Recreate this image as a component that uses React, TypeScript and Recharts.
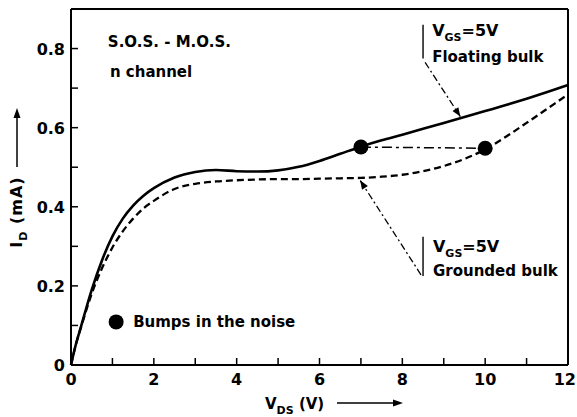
import { ComposedChart, Line, XAxis, YAxis, ReferenceLine, ReferenceDot } from 'recharts'

const vds = [0, 0.1, 0.25, 0.5, 0.75, 1, 1.25, 1.5, 1.75, 2, 2.5, 3, 3.5, 4, 4.5, 5, 5.5, 6, 6.5, 7, 7.5, 8, 8.5, 9, 9.5, 10, 10.5, 11, 11.5, 12]
const floatingBulk = [0, 0.045, 0.1, 0.19, 0.265, 0.325, 0.37, 0.403, 0.428, 0.447, 0.474, 0.488, 0.493, 0.49, 0.489, 0.492, 0.501, 0.516, 0.534, 0.552, 0.568, 0.582, 0.597, 0.612, 0.627, 0.642, 0.657, 0.673, 0.69, 0.708]
const groundedBulk = [0, 0.045, 0.098, 0.18, 0.245, 0.297, 0.338, 0.37, 0.396, 0.415, 0.445, 0.458, 0.464, 0.467, 0.469, 0.47, 0.47, 0.471, 0.472, 0.473, 0.476, 0.481, 0.49, 0.503, 0.521, 0.545, 0.577, 0.612, 0.648, 0.684]

const bumpV = [7, 10]
const bumpI = [0.551, 0.548]

const xTicks = [0, 1, 2, 3, 4, 5, 6, 7, 8, 9, 10, 11, 12]
const yTicks = [0, 0.1, 0.2, 0.3, 0.4, 0.5, 0.6, 0.7, 0.8]

const FONT = '"DejaVu Sans", sans-serif'

const data = vds.map((v, i) => ({ v, floating: floatingBulk[i], grounded: groundedBulk[i] }))
const bumps = bumpV.map((v, i) => ({ v, bump: bumpI[i] }))

function head(x1: number, y1: number, x2: number, y2: number, len = 9, w = 3.5) {
  const a = Math.atan2(y2 - y1, x2 - x1)
  const bx = x2 - len * Math.cos(a), by = y2 - len * Math.sin(a)
  const px = -Math.sin(a) * w, py = Math.cos(a) * w
  return `${x2},${y2} ${bx + px},${by + py} ${bx - px},${by - py}`
}

const arrowShape = (p: any) => (
  <g>
    <line x1={p.x1} y1={p.y1} x2={p.x2} y2={p.y2} stroke="#000" strokeWidth={1.3} strokeDasharray="7 3 2 3" />
    <polygon points={head(p.x1, p.y1, p.x2, p.y2)} fill="#000" />
  </g>
)

const XTick = (p: any) => {
  const v = p.payload.value
  const last = v === xTicks[xTicks.length - 1]
  return (
    <g>
      <line x1={p.x} y1={p.y} x2={p.x} y2={p.y - 7} stroke="#000" strokeWidth={1.5} />
      {v % 2 === 0 && (
        <text x={last ? p.x + 8 : p.x} y={p.y + 20} textAnchor={last ? 'end' : 'middle'} fontFamily={FONT} fontWeight="bold" fontSize={16} fill="#000">{v}</text>
      )}
    </g>
  )
}

const YTick = (p: any) => {
  const v = p.payload.value
  const show = Math.round(v * 10) % 2 === 0
  return (
    <g>
      <line x1={p.x} y1={p.y} x2={p.x + 7} y2={p.y} stroke="#000" strokeWidth={1.5} />
      {show && (
        <text x={p.x - 6} y={p.y + 6} textAnchor="end" fontFamily={FONT} fontWeight="bold" fontSize={16} fill="#000">{v === 0 ? '0' : v.toFixed(1)}</text>
      )}
    </g>
  )
}

const xLabel = (props: any) => {
  const vb = props.viewBox
  const x = vb.x + 194, y = vb.y + 44
  return (
    <g>
      <text x={x} y={y} fontFamily={FONT} fontWeight="bold" fontSize={15} fill="#000">
        V<tspan fontSize={11} dy={5}>DS</tspan><tspan dy={-5}> (V)</tspan>
      </text>
      <line x1={vb.x + 266} y1={vb.y + 38} x2={vb.x + 324} y2={vb.y + 38} stroke="#000" strokeWidth={1.5} />
      <polygon points={head(vb.x + 266, vb.y + 38, vb.x + 332, vb.y + 38, 10, 3.5)} fill="#000" />
    </g>
  )
}

const yLabel = (props: any) => {
  const vb = props.viewBox
  const cx = 22, cy = vb.y + 203
  return (
    <g>
      <text x={cx} y={cy} transform={`rotate(-90 ${cx} ${cy})`} textAnchor="middle" fontFamily={FONT} fontWeight="bold" fontSize={16} letterSpacing={1} fill="#000">
        I<tspan fontSize={11} dy={5}>D</tspan><tspan dy={-5}> (mA)</tspan>
      </text>
      <line x1={17} y1={vb.y + 158} x2={17} y2={vb.y + 108} stroke="#000" strokeWidth={1.5} />
      <polygon points={head(17, vb.y + 158, 17, vb.y + 99, 10, 3.5)} fill="#000" />
    </g>
  )
}

const note = (x: number, y: number, content: any, key: string, size = 15) => (
  <ReferenceDot key={key} x={x} y={y} r={0} ifOverflow="visible"
    shape={(p: any) => (
      <text x={p.cx} y={p.cy} fontFamily={FONT} fontWeight="bold" fontSize={size} fill="#000">{content}</text>
    )} />
)

const vgs = [<tspan key="a">V</tspan>, <tspan key="b" fontSize={11} dy={5}>GS</tspan>, <tspan key="c" dy={-5}>=5V</tspan>]

export default function App() {
  return (
    <div style={{ position: 'absolute', left: 0, top: 0, background: '#fff' }}>
      <ComposedChart width={577} height={417} data={data} margin={{ top: 9, right: 9, left: 0, bottom: 0 }}>
        <XAxis dataKey="v" type="number" domain={[0, 12]} ticks={xTicks} interval={0} height={52}
          tickLine={false} tickSize={0} tickMargin={0} tick={(p: any) => <XTick {...p} />}
          axisLine={{ stroke: '#000', strokeWidth: 2 }} label={{ content: xLabel }} />
        <YAxis type="number" domain={[0, 0.9]} ticks={yTicks} interval={0} width={71} allowDataOverflow
          tickLine={false} tickSize={0} tickMargin={0} tick={(p: any) => <YTick {...p} />}
          axisLine={{ stroke: '#000', strokeWidth: 2 }} label={{ content: yLabel }} />
        <ReferenceLine y={0.9} stroke="#000" strokeWidth={2} />
        <ReferenceLine x={12} stroke="#000" strokeWidth={2} />

        <Line type="monotone" dataKey="floating" stroke="#000" strokeWidth={2.6} dot={false} isAnimationActive={false} />
        <Line type="monotone" dataKey="grounded" stroke="#000" strokeWidth={2.3} strokeDasharray="7 4" dot={false} isAnimationActive={false} />
        <Line data={bumps} dataKey="bump" type="linear" stroke="#000" strokeWidth={1.5} strokeDasharray="10 4 3 4"
          dot={{ r: 7.5, fill: '#000', stroke: '#000', strokeWidth: 0 }} isAnimationActive={false} />

        <ReferenceLine segment={[{ x: 8.5, y: 0.86 }, { x: 8.5, y: 0.775 }]} stroke="#000" strokeWidth={1.4} />
        <ReferenceLine segment={[{ x: 8.55, y: 0.765 }, { x: 9.4, y: 0.628 }]} shape={arrowShape} />
        <ReferenceLine segment={[{ x: 8.5, y: 0.324 }, { x: 8.5, y: 0.225 }]} stroke="#000" strokeWidth={1.4} />
        <ReferenceLine segment={[{ x: 8.45, y: 0.228 }, { x: 6.98, y: 0.467 }]} shape={arrowShape} />

        <ReferenceDot x={1.09} y={0.109} r={7.5} fill="#000" stroke="#000" strokeWidth={0} />
        {note(1.5, 0.096, 'Bumps in the noise', 'n1')}
        {note(0.89, 0.803, 'S.O.S. - M.O.S.', 'n2')}
        {note(0.94, 0.729, 'n  channel', 'n3')}
        {note(8.72, 0.833, vgs, 'n4', 16)}
        {note(8.72, 0.767, 'Floating  bulk', 'n5')}
        {note(8.74, 0.286, vgs, 'n6', 16)}
        {note(8.74, 0.225, 'Grounded  bulk', 'n7')}
      </ComposedChart>
    </div>
  )
}
